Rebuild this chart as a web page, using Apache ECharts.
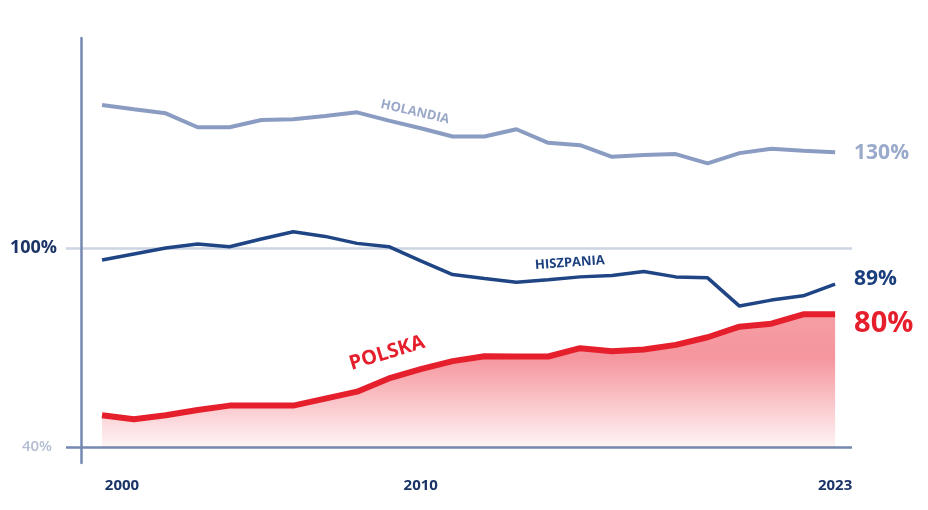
<!DOCTYPE html>
<html>
<head>
<meta charset="utf-8">
<script src="https://cdn.jsdelivr.net/npm/echarts@6/dist/echarts.min.js"></script>
<style>
html,body{margin:0;padding:0;background:#fff;}
#chart{width:928px;height:510px;}
</style>
</head>
<body>
<div id="chart"></div>
<script>
var years = [2000,2001,2002,2003,2004,2005,2006,2007,2008,2009,2010,2011,2012,2013,2014,2015,2016,2017,2018,2019,2020,2021,2022,2023];
var holandia = [143.1,141.8,140.6,136.4,136.4,138.6,138.8,139.8,140.9,138.4,136.1,133.6,133.6,135.8,131.7,131.0,127.5,128.0,128.3,125.5,128.6,129.9,129.3,128.9];
var hiszpania = [96.4,98.2,100.0,101.2,100.4,102.7,104.9,103.5,101.4,100.4,96.1,92.0,90.8,89.7,90.4,91.3,91.7,92.9,91.3,91.0,82.5,84.3,85.6,89.1];
var polska = [49.6,48.4,49.6,51.2,52.5,52.5,52.5,54.6,56.7,60.7,63.5,65.9,67.4,67.3,67.3,69.8,68.9,69.4,70.8,73.1,76.3,77.2,80.0,80.0];
var seriesNames = ['HOLANDIA','HISZPANIA','POLSKA'];
var endLabels = ['130%','89%','80%'];
var xTicks = [2000,2010,2023];
var yTicks = [40,100];
var yTickLabels = ['40%','100%'];

function pairs(arr){ return years.map(function(y,i){ return [y, arr[i]]; }); }

var FONT = '"Open Sans", "Noto Sans", sans-serif';
var chart = echarts.init(document.getElementById('chart'));
chart.setOption({
  animation: false,
  backgroundColor: '#ffffff',
  grid: { left: 66, right: 76, top: 38, bottom: 47 },
  xAxis: {
    type: 'value', min: 1998.87, max: 2023.53,
    axisLine: { show: false }, axisTick: { show: false }, splitLine: { show: false },
    axisLabel: {
      customValues: xTicks, margin: 15,
      fontFamily: FONT, fontWeight: 'bold', fontSize: 15, color: '#1b3467',
      formatter: function(v){ return v === xTicks[0] ? '{s|' + v + '}' : '{n|' + v + '}'; },
      rich: {
        s: { padding: [0,0,0,40], fontFamily: FONT, fontWeight: 'bold', fontSize: 15, color: '#1b3467' },
        n: { fontFamily: FONT, fontWeight: 'bold', fontSize: 15, color: '#1b3467' }
      }
    }
  },
  yAxis: {
    type: 'value', min: 35.2, max: 163.3, offset: -15,
    axisLine: { show: true, lineStyle: { color: '#7389b1', width: 2.5 } },
    axisTick: { show: false, customValues: yTicks },
    splitLine: { show: true, lineStyle: { color: ['#7389b1', '#cdd5e3'], width: 2.5 } },
    axisLabel: {
      customValues: yTicks, margin: 24,
      formatter: function(v){ var i = yTicks.indexOf(v); return i === 0 ? '{a|' + yTickLabels[i] + '}' : '{b|' + yTickLabels[i] + '}'; },
      rich: {
        a: { fontFamily: FONT, fontWeight: 600, fontSize: 15, color: '#b3bdd3', padding: [0,5,0,0] },
        b: { fontFamily: FONT, fontWeight: 'bold', fontSize: 18, color: '#1b3467' }
      }
    }
  },
  series: [
    {
      name: seriesNames[0], type: 'line', data: pairs(holandia), symbol: 'none',
      lineStyle: { color: '#8a9cc2', width: 4 },
      endLabel: { show: true, formatter: endLabels[0], distance: 19, offset: [0, 1],
        fontFamily: FONT, fontWeight: 'bold', fontSize: 21, color: '#9aaacb' },
      markPoint: { symbolSize: 0, silent: true,
        data: [{ coord: [2009.82, 141.0] }],
        label: { show: true, formatter: seriesNames[0], rotate: -13, fontFamily: FONT, fontWeight: 'bold', fontSize: 13, color: '#9aa8c8' } }
    },
    {
      name: seriesNames[1], type: 'line', data: pairs(hiszpania), symbol: 'none',
      lineStyle: { color: '#1f4585', width: 3.5 },
      endLabel: { show: true, formatter: endLabels[1], distance: 19, offset: [0, -5],
        fontFamily: FONT, fontWeight: 'bold', fontSize: 21, color: '#1b3f7e' },
      markPoint: { symbolSize: 0, silent: true,
        data: [{ coord: [2014.68, 95.5] }],
        label: { show: true, formatter: seriesNames[1], rotate: 4, fontFamily: FONT, fontWeight: 'bold', fontSize: 13, color: '#1b3f7e' } }
    },
    {
      name: seriesNames[2], type: 'line', data: pairs(polska), symbol: 'none',
      lineStyle: { color: '#e61f2d', width: 6 },
      areaStyle: { origin: 40, color: new echarts.graphic.LinearGradient(0, 0, 0, 1, [
        { offset: 0, color: 'rgba(236,45,60,0.66)' },
        { offset: 0.32, color: 'rgba(236,45,60,0.72)' },
        { offset: 1, color: 'rgba(236,45,60,0.07)' }
      ]) },
      endLabel: { show: true, formatter: endLabels[2], distance: 19, offset: [0, 9],
        fontFamily: FONT, fontWeight: 'bold', fontSize: 29, color: '#e61f2d' },
      markPoint: { symbolSize: 0, silent: true,
        data: [{ coord: [2008.94, 68.3] }],
        label: { show: true, formatter: seriesNames[2], rotate: 17, fontFamily: FONT, fontWeight: 'bold', fontSize: 20, color: '#e61f2d' } }
    }
  ]
});
</script>
</body>
</html>
